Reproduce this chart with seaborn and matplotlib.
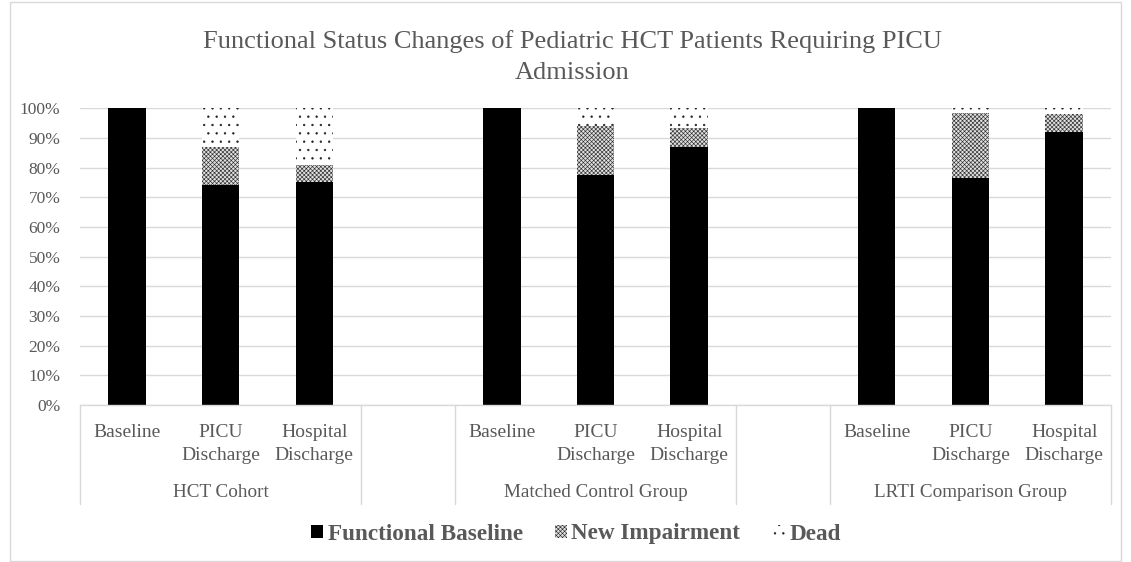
import matplotlib
matplotlib.use("Agg")
import matplotlib.pyplot as plt
import matplotlib.transforms as mtransforms
from matplotlib.patches import Patch, Rectangle
import seaborn as sns
import pandas as pd

# ---- data ----
groups = ["HCT Cohort", "Matched Control Group", "LRTI Comparison Group"]
timepoints = ["Baseline", "PICU\nDischarge", "Hospital\nDischarge"]
series = ["Functional Baseline", "New Impairment", "Dead"]
functional = [100, 74, 75, 100, 77.5, 87, 100, 76.5, 92]
impairment = [0, 13, 6, 0, 16.5, 6.5, 0, 22, 6]
dead = [0, 13, 19, 0, 6, 6.5, 0, 1.5, 2]
yticks = [0, 10, 20, 30, 40, 50, 60, 70, 80, 90, 100]

TXT = "#595959"
GRID = "#d9d9d9"

sns.set_theme(style="white")
plt.rcParams["font.family"] = ["Liberation Serif", "DejaVu Serif"]
plt.rcParams["hatch.linewidth"] = 0.45

# one blank slot between groups
pos = [g * 4 + t for g in range(len(groups)) for t in range(len(timepoints))]
df = pd.DataFrame({"pos": pos, "functional": functional,
                   "impairment": impairment, "dead": dead})
df["top2"] = df["functional"] + df["impairment"]
df["top3"] = df["top2"] + df["dead"]

W, H = 1131, 562
fig = plt.figure(figsize=(W / 100, H / 100), dpi=100)
ax = fig.add_axes([80 / W, 1 - 405 / H, (1111 - 80) / W, (405 - 108.3) / H])

IMP_HATCH = "xxxxxxxx"
DEAD_HATCH = ".."
styles = [
    ("top3", dict(color="white"), DEAD_HATCH, "#202020"),
    ("top2", dict(color="#e0e0e0"), IMP_HATCH, "#303030"),
    ("functional", dict(color="black"), None, "black"),
]
for col, kw, hatch, ec in styles:
    n_before = len(ax.patches)
    sns.barplot(data=df, x="pos", y=col, native_scale=True, width=0.4,
                errorbar=None, saturation=1, ax=ax, **kw)
    for p in ax.patches[n_before:]:
        p.set_edgecolor(ec)
        p.set_linewidth(0)
        if hatch:
            p.set_hatch(hatch)

ax.set_xlim(-0.5, 10.5)
ax.set_ylim(0, 100)
ax.set_yticks(yticks)
ax.set_yticklabels([f"{v}%" for v in yticks])
ax.yaxis.grid(True, color=GRID, linewidth=1)
ax.xaxis.grid(False)
ax.set_axisbelow(True)
for s in ["top", "left", "right"]:
    ax.spines[s].set_visible(False)
ax.spines["bottom"].set_color(GRID)
ax.spines["bottom"].set_linewidth(1)
ax.set_xlabel("")
ax.set_ylabel("")

ax.set_xticks(pos)
ax.set_xticklabels(timepoints * len(groups), fontsize=14, color=TXT,
                   va="top", linespacing=1.4)
ax.tick_params(axis="x", length=0, pad=14)
ax.tick_params(axis="y", length=0, pad=14, labelsize=12.5, labelcolor=TXT)

trans = mtransforms.blended_transform_factory(ax.transData, ax.transAxes)
for xv in [-0.5, 2.5, 3.5, 6.5, 7.5, 10.5]:
    ax.plot([xv, xv], [0, -0.332], transform=trans, clip_on=False,
            color=GRID, linewidth=1)
for g, name in enumerate(groups):
    ax.text(g * 4 + 1, -0.295, name, transform=trans, ha="center",
            va="center", fontsize=13.8, color=TXT)

fig.text(572 / W, 1 - 57 / H,
         "Functional Status Changes of Pediatric HCT Patients Requiring PICU\nAdmission",
         ha="center", va="center", fontsize=19, color=TXT, linespacing=1.5)

handles = [
    Patch(facecolor="black", edgecolor="black", linewidth=0),
    Patch(facecolor="#e0e0e0", edgecolor="#303030", hatch=IMP_HATCH, linewidth=0),
    Patch(facecolor="white", edgecolor="#202020", hatch=DEAD_HATCH, linewidth=0),
]
leg = fig.legend(handles, series, loc="center",
                 bbox_to_anchor=(576 / W, 1 - 534 / H), ncol=3, frameon=False,
                 prop={"weight": "bold", "size": 16.7}, handlelength=0.5,
                 handleheight=0.5, columnspacing=1.4, handletextpad=0.2)
for t in leg.get_texts():
    t.set_color(TXT)

fig.patches.append(Rectangle((10 / W, 1 / H), (1121 - 10) / W, (H - 3) / H,
                             transform=fig.transFigure, fill=False,
                             edgecolor=GRID, linewidth=1))

fig.savefig("out.png", dpi=100, facecolor="white")
